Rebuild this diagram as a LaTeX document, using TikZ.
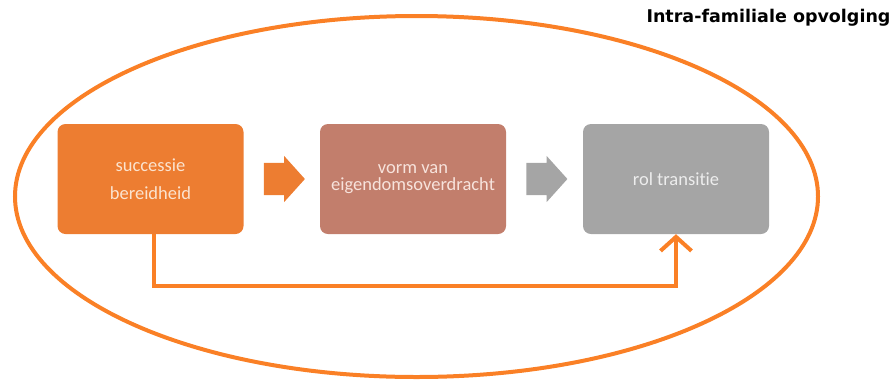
\documentclass[tikz,border=0pt]{standalone}
\usepackage{fontspec}
\setmainfont[Ligatures=NoCommon]{Carlito}
\newfontfamily\titlefont{DejaVu Sans}
\usepackage{xcolor,tikz}
\usetikzlibrary{positioning,calc,arrows.meta,shapes.geometric,shapes.arrows}
\definecolor{ifoOrangeLine}{HTML}{FA8026}
\definecolor{ifoOrangeFill}{HTML}{ED7D31}
\definecolor{ifoRoseFill}{HTML}{C27E6C}
\definecolor{ifoGreyFill}{HTML}{A5A5A5}
\definecolor{ifoOrangeText}{HTML}{FBE3CF}
\definecolor{ifoRoseText}{HTML}{F7E3DC}
\definecolor{ifoGreyText}{HTML}{EDEDED}
\tikzset{
  stage box/.style={
    rounded corners=8pt, inner sep=0pt,
    minimum width=186pt, minimum height=110pt,
    font=\fontsize{18.5}{18.5}\selectfont, align=center,
  },
  block arrow/.style={
    single arrow, inner xsep=0pt, inner ysep=16pt,
    text height=0pt, text depth=0pt,
    minimum height=41pt, anchor=tail,
    single arrow head extend=7pt, single arrow tip angle=96,
  },
  loop arrow/.style={
    -{Straight Barb[length=14pt, width=31pt, line width=4pt]},
    line width=4pt, color=ifoOrangeLine,
  },
}

\begin{document}
\begin{tikzpicture}[x=1pt, y=-1pt]
\useasboundingbox (0,0) rectangle (896,381);

% --- FRAME ---
\node[draw=ifoOrangeLine, line width=4pt, ellipse, inner sep=0pt,
      minimum width=803pt, minimum height=361pt]
  (frame) at (416.5, 196.5) {};
\node[anchor=east, font=\titlefont\bfseries\fontsize{17.5}{18}\selectfont]
  (title) at (894, 18) {Intra-familiale opvolging};

% --- STAGES ---
\node[stage box, fill=ifoOrangeFill, text=ifoOrangeText,
      font=\fontsize{18.5}{28}\selectfont]
  (succ) at (150.5, 179) {successie\\bereidheid};
\node[stage box, fill=ifoRoseFill, text=ifoRoseText,
      font=\fontsize{18.5}{17}\selectfont]
  (vorm) at (413, 179) {vorm van\\eigendomsoverdracht};
\node[stage box, fill=ifoGreyFill, text=ifoGreyText]
  (rol) at (676, 179) {rol transitie};

% --- BLOCK ARROWS (tail sits 20pt right of the box before it) ---
\node[block arrow, fill=ifoOrangeFill] (arrowA) at ([xshift=20pt]succ.east) {};
\node[block arrow, fill=ifoGreyFill] (arrowB) at ([xshift=20pt]vorm.east) {};

% --- LOOP: successie -> down -> across -> up into rol transitie ---
\coordinate (rail) at (0, 286);
\draw[loop arrow]
  ([xshift=3.5pt]succ.south) -- ([xshift=3.5pt]succ.south |- rail) -| (rol.south);

\end{tikzpicture}
\end{document}
